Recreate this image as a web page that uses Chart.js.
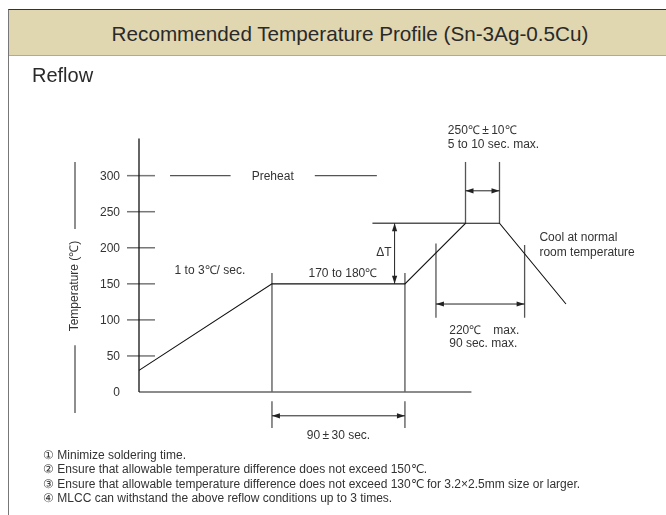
<!DOCTYPE html>
<html>
<head>
<meta charset="utf-8">
<script src="https://cdn.jsdelivr.net/npm/chart.js@4.4.0/dist/chart.umd.min.js"></script>
<style>
body { margin: 0; background: #fff; font-family: "Liberation Sans", Arial, sans-serif; color: #333; }
#wrap { position: relative; width: 666px; height: 515px; overflow: hidden; }
#lienzo { position: absolute; left: 0; top: 0; width: 666px; height: 515px; }
#marco { position: absolute; left: 8px; top: 9px; width: 700px; height: 560px; border-left: 1.5px solid #777; border-top: 1px solid #333; }
#cabecera { position: absolute; left: 9px; top: 10px; width: 700px; height: 45px; background: #e0d6b0; border-bottom: 1px solid #aaa; }
#titulo { position: absolute; left: 50px; top: 24px; width: 600px; text-align: center; font-size: 20.7px; line-height: 20.5px; white-space: nowrap; color: #2a2a2a; }
#reflow { position: absolute; left: 32px; top: 65px; font-size: 20px; line-height: 20px; color: #2a2a2a; }
#notas { position: absolute; left: 43px; top: 448px; font-size: 12px; line-height: 14.3px; white-space: nowrap; }
</style>
</head>
<body>
<div id="wrap">
  <div id="lienzo"><canvas id="perfilChart"></canvas></div>
  <div id="marco"></div>
  <div id="cabecera"></div>
  <div id="titulo">Recommended Temperature Profile (Sn-3Ag-0.5Cu)</div>
  <div id="reflow">Reflow</div>
  <div id="notas">
    ① Minimize soldering time.<br>
    ② Ensure that allowable temperature difference does not exceed 150℃.<br>
    ③ Ensure that allowable temperature difference does not exceed 130℃ for 3.2×2.5mm size or larger.<br>
    ④ MLCC can withstand the above reflow conditions up to 3 times.
  </div>
</div>
<script>
// Perfil de temperatura (tiempo en s, temperatura en ℃)
const tiempos = [0, 90, 180, 221, 244, 289];
const temperaturas = [30, 150, 150, 234, 234, 122];
const ticksY = [0, 50, 100, 150, 200, 250, 300];

// Líneas guía: [t1, T1, t2, T2]
const guias = [
    [90, 165, 90, 0], [90, -13, 90, -50],
    [180, 165, 180, 0], [180, -13, 180, -50],
    [158, 234, 221, 234],
    [201, 206, 201, 103], [261, 204, 261, 103],
    [221, 234, 221, 319], [244, 234, 244, 319],
    [21, 300, 62, 300], [119, 300, 161, 300]
];

// Flechas de cota: [t1, T1, t2, T2]
const flechas = [
    [90, -33, 180, -33],
    [173, 234, 173, 150],
    [201, 122, 261, 122],
    [221, 279, 244, 279]
];

const FUENTE = '12px "Liberation Sans", Arial, sans-serif';

// Función para dibujar una punta de flecha
function punta(ctx, x1, y1, x2, y2) {
    const ang = Math.atan2(y2 - y1, x2 - x1);
    const largo = 8, ancho = 2.6;
    ctx.beginPath();
    ctx.moveTo(x2, y2);
    ctx.lineTo(x2 - largo * Math.cos(ang) + ancho * Math.sin(ang), y2 - largo * Math.sin(ang) - ancho * Math.cos(ang));
    ctx.lineTo(x2 - largo * Math.cos(ang) - ancho * Math.sin(ang), y2 - largo * Math.sin(ang) + ancho * Math.cos(ang));
    ctx.closePath();
    ctx.fill();
}

// Plugin para ejes, cotas y textos
const anotaciones = {
    id: 'anotaciones',
    afterDatasetsDraw(chart) {
        const { ctx, scales: { x, y } } = chart;
        const px = v => x.getPixelForValue(v);
        const py = v => y.getPixelForValue(v);
        const x0 = px(0);
        ctx.save();

        // ticks del eje Y
        ctx.strokeStyle = '#777';
        ctx.lineWidth = 1.5;
        ctx.fillStyle = '#333';
        ctx.font = FUENTE;
        ctx.textAlign = 'right';
        ctx.textBaseline = 'middle';
        ticksY.forEach(v => {
            if (v > 0) {
                ctx.beginPath();
                ctx.moveTo(x0 - 12, py(v));
                ctx.lineTo(x0 + 16, py(v));
                ctx.stroke();
            }
            ctx.fillText(String(v), x0 - 19, py(v) + 1);
        });

        // eje X
        ctx.strokeStyle = '#666';
        ctx.lineWidth = 1.5;
        ctx.beginPath();
        ctx.moveTo(x0, py(0));
        ctx.lineTo(px(225), py(0));
        ctx.stroke();

        // eje Y
        ctx.strokeStyle = '#111';
        ctx.lineWidth = 1.3;
        ctx.beginPath();
        ctx.moveTo(x0, py(0));
        ctx.lineTo(x0, y.top - 1);
        ctx.stroke();

        // título del eje Y con líneas
        ctx.strokeStyle = '#444';
        ctx.lineWidth = 1.2;
        ctx.beginPath();
        ctx.moveTo(x0 - 64, py(319));
        ctx.lineTo(x0 - 64, py(226));
        ctx.moveTo(x0 - 64, py(65));
        ctx.lineTo(x0 - 64, py(-29));
        ctx.stroke();
        ctx.save();
        ctx.translate(x0 - 64, py(147));
        ctx.rotate(-Math.PI / 2);
        ctx.textAlign = 'center';
        ctx.fillText('Temperature (℃)', 0, 0);
        ctx.restore();

        // flechas de cota
        ctx.strokeStyle = '#222';
        ctx.fillStyle = '#222';
        ctx.lineWidth = 1;
        flechas.forEach(([t1, v1, t2, v2]) => {
            const a = [px(t1), py(v1)], b = [px(t2), py(v2)];
            ctx.beginPath();
            ctx.moveTo(a[0], a[1]);
            ctx.lineTo(b[0], b[1]);
            ctx.stroke();
            punta(ctx, a[0], a[1], b[0], b[1]);
            punta(ctx, b[0], b[1], a[0], a[1]);
        });

        // textos
        ctx.fillStyle = '#333';
        ctx.textBaseline = 'alphabetic';
        ctx.textAlign = 'center';
        ctx.fillText('Preheat', (px(62) + px(119)) / 2, py(300) + 4);
        ctx.fillText('1 to 3℃/ sec.', px(48), py(164));
        ctx.fillText('170 to 180℃', px(138), py(160));
        ctx.fillText('90\u2009±\u200930 sec.', px(135), py(-65));
        ctx.textAlign = 'right';
        ctx.fillText('ΔT', px(171), py(188));
        ctx.textAlign = 'left';
        ctx.fillText('250℃\u2009±\u200910℃', px(209), py(358));
        ctx.fillText('5 to 10 sec. max.', px(209), py(338));
        ctx.fillText('Cool at normal', px(271), py(210));
        ctx.fillText('room temperature', px(271), py(189));
        ctx.fillText('220℃\u3000max.', px(210), py(80));
        ctx.fillText('90 sec. max.', px(210), py(62));
        ctx.restore();
    }
};

// Datasets: perfil y líneas guía
const datasets = [{
    data: tiempos.map((t, i) => ({ x: t, y: temperaturas[i] })),
    showLine: true,
    borderColor: '#111',
    borderWidth: 1.1,
    pointRadius: 0,
    clip: false
}];
guias.forEach(([t1, v1, t2, v2]) => {
    datasets.push({
        data: [{ x: t1, y: v1 }, { x: t2, y: v2 }],
        showLine: true,
        borderColor: '#555',
        borderWidth: 1.3,
        pointRadius: 0,
        clip: false
    });
});

document.addEventListener('DOMContentLoaded', () => {
    const ctx = document.getElementById('perfilChart').getContext('2d');
    new Chart(ctx, {
        type: 'scatter',
        data: { datasets: datasets },
        options: {
            responsive: true,
            maintainAspectRatio: false,
            animation: false,
            layout: { padding: { left: 139, right: 69, top: 139.6, bottom: 123 } },
            plugins: { legend: { display: false }, tooltip: { enabled: false } },
            scales: {
                x: { type: 'linear', min: 0, max: 310, display: false },
                y: { type: 'linear', min: 0, max: 350, display: false }
            }
        },
        plugins: [anotaciones]
    });
});
</script>
</body>
</html>
